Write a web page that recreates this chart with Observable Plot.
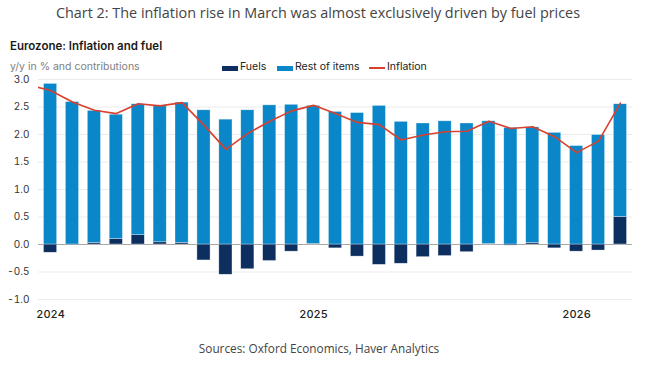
<!DOCTYPE html>
<html>
<head>
<meta charset="utf-8">
<script src="https://cdn.jsdelivr.net/npm/d3@7"></script>
<script src="https://cdn.jsdelivr.net/npm/@observablehq/plot@0.6"></script>
<style>
  html, body { margin: 0; padding: 0; background: #fff; }
  #wrap { position: relative; width: 656px; height: 376px; overflow: hidden; font-family: Inter, "Noto Sans", sans-serif; }
  .abs { position: absolute; white-space: nowrap; }
  #title { left: 0; width: 636px; top: 3px; text-align: center; font-family: "Open Sans", sans-serif; font-size: 14.4px; color: #444; }
  #sub { left: 10px; top: 39px; font-size: 11.5px; font-weight: 600; color: #1a1a1a; }
  #unit { left: 10px; top: 60px; font-size: 10.5px; color: #808080; }
  #source { left: 0; width: 638px; top: 340px; text-align: center; font-family: "Open Sans", sans-serif; font-size: 11.8px; color: #444; }
  .leg { top: 60px; font-size: 10.5px; color: #222; }
  .sw { position: absolute; width: 16px; height: 5px; top: 66px; }
  .ln { position: absolute; width: 16px; height: 2px; top: 67px; background: #d9412f; }
  #chart { position: absolute; left: 0; top: 70px; }
</style>
</head>
<body>
<div id="wrap">
  <div id="title" class="abs">Chart 2: The inflation rise in March was almost exclusively driven by fuel prices</div>
  <div id="sub" class="abs">Eurozone: Inflation and fuel</div>
  <div id="unit" class="abs">y/y in % and contributions</div>
  <div class="sw" style="left:222px;background:#0d2f5f"></div>
  <div class="abs leg" style="left:240px">Fuels</div>
  <div class="sw" style="left:277px;background:#0a87c8"></div>
  <div class="abs leg" style="left:295px">Rest of items</div>
  <div class="ln" style="left:369px"></div>
  <div class="abs leg" style="left:387px">Inflation</div>
  <div id="chart"></div>
  <div id="source" class="abs">Sources: Oxford Economics, Haver Analytics</div>
</div>
<script>
// Months Jan 2024 .. Mar 2026
const months = ["2024-01","2024-02","2024-03","2024-04","2024-05","2024-06","2024-07","2024-08","2024-09","2024-10","2024-11","2024-12",
                "2025-01","2025-02","2025-03","2025-04","2025-05","2025-06","2025-07","2025-08","2025-09","2025-10","2025-11","2025-12",
                "2026-01","2026-02","2026-03"];
// Contributions (pp)
const fuels = [-0.15,-0.01,0.03,0.10,0.17,0.04,0.03,-0.29,-0.55,-0.45,-0.30,-0.13,
               0.01,-0.07,-0.22,-0.37,-0.35,-0.23,-0.21,-0.14,0.01,-0.02,0.03,-0.07,
               -0.13,-0.11,0.50];
const rest = [2.92,2.59,2.40,2.26,2.38,2.48,2.55,2.44,2.27,2.44,2.53,2.54,
              2.51,2.41,2.39,2.52,2.23,2.20,2.24,2.20,2.23,2.12,2.10,2.03,
              1.79,1.99,2.05];
// Headline inflation, Dec 2023 .. Mar 2026 (Dec 2023 is cut off at the left edge)
const inflationMonths = ["2023-12", ...months];
const inflation = [2.90,2.80,2.59,2.44,2.38,2.56,2.52,2.58,2.17,1.73,2.02,2.24,2.43,
                   2.53,2.38,2.22,2.18,1.90,1.99,2.05,2.06,2.24,2.11,2.14,1.96,
                   1.67,1.88,2.57];
const seriesNames = ["Fuels","Rest of items"];
const xTickMonths = ["2024-01","2025-01","2026-01"];
const xTickLabels = ["2024","2025","2026"];
const yTicks = [-1.0,-0.5,0.0,0.5,1.0,1.5,2.0,2.5,3.0];

const idx = m => {
  const [y, mo] = m.split("-").map(Number);
  return (y - 2024) * 12 + (mo - 1);
};

const bars = [];
months.forEach((m, i) => {
  bars.push({i: idx(m), series: seriesNames[0], value: fuels[i]});
});
months.forEach((m, i) => {
  bars.push({i: idx(m), series: seriesNames[1], value: rest[i]});
});
const line = inflationMonths.map((m, k) => ({i: idx(m), value: inflation[k]}));
const xTickIdx = xTickMonths.map(idx);

const half = 0.30;
const chart = Plot.plot({
  width: 656,
  height: 259,
  marginLeft: 38,
  marginRight: 24,
  marginTop: 9,
  marginBottom: 30,
  style: {fontFamily: "Inter, 'Noto Sans', sans-serif", fontSize: "10px", color: "#333", background: "transparent"},
  x: {type: "linear", domain: [-0.55, 26.55], label: null},
  y: {domain: [-1, 3], label: null},
  color: {domain: seriesNames, range: ["#0d2f5f", "#0a87c8"]},
  marks: [
    Plot.ruleY(yTicks.filter(d => d !== 0), {stroke: "#ebebeb", strokeWidth: 1}),
    Plot.ruleY([0], {stroke: "#a6a6a6", strokeWidth: 1}),
    Plot.rectY(bars, {x1: d => d.i - half, x2: d => d.i + half, y: "value", fill: "series", stroke: "white", strokeOpacity: 0.55, strokeWidth: 0.6}),
    Plot.line(line, {x: "i", y: "value", stroke: "#d9412f", strokeWidth: 1.6, clip: true}),
    Plot.axisY({ticks: yTicks, tickSize: 0, tickPadding: 9, tickFormat: d => d.toFixed(1), fontSize: 10, fill: "#333", label: null}),
    Plot.axisX({ticks: xTickIdx, tickSize: 0, tickPadding: 11, tickFormat: d => xTickLabels[xTickIdx.indexOf(d)], fontSize: 11, fontWeight: 500, fill: "#222", label: null})
  ]
});
document.getElementById("chart").appendChild(chart);
</script>
</body>
</html>
